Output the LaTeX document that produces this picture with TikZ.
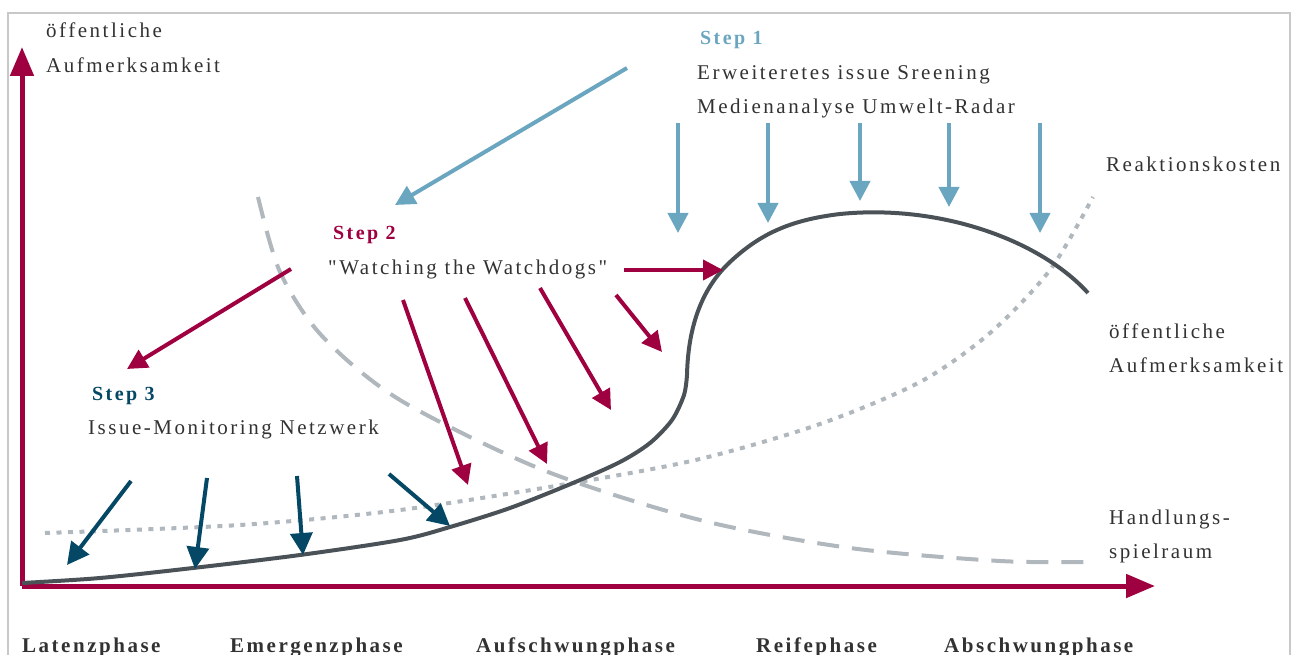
\documentclass[tikz,border=0pt]{standalone}
\usepackage{fontspec}
\setmainfont{Liberation Serif}[LetterSpace=12, Ligatures=TeXOff]
\usetikzlibrary{arrows.meta}

\definecolor{stepred}{RGB}{159,0,64}
\definecolor{stepblue}{RGB}{106,166,192}
\definecolor{stepteal}{RGB}{4,72,102}
\definecolor{curvegray}{RGB}{74,82,88}
\definecolor{lightgray}{RGB}{176,183,189}
\definecolor{txtgray}{RGB}{50,50,50}
\definecolor{framegray}{RGB}{200,200,200}

\tikzset{
	lbl/.style={anchor=base west, inner sep=0pt, text=txtgray, font=\fontsize{21}{24}\selectfont},
	steplbl/.style={anchor=base west, inner sep=0pt, font=\fontsize{20}{24}\selectfont\bfseries},
	phase/.style={anchor=base west, inner sep=0pt, text=txtgray, font=\fontsize{21}{24}\selectfont\bfseries},
	bluearrow/.style={draw=stepblue, line width=4pt, -{Triangle[length=20pt,width=20pt]}},
	redarrow/.style={draw=stepred, line width=4pt, -{Triangle[length=20pt,width=20pt]}},
	tealarrow/.style={draw=stepteal, line width=4pt, -{Triangle[length=22pt,width=22pt]}},
	axis/.style={draw=stepred, line width=5pt, -{Triangle[length=29pt,width=23pt]}},
}

\begin{document}
\begin{tikzpicture}[x=1pt,y=-1pt]
	\useasboundingbox (0,0) rectangle (1298,655);
	\draw[framegray, line width=1.2pt] (8,700) -- (8,13) -- (1290,13) -- (1290,700);

	% axes
	\coordinate (o) at (22,586);
	\coordinate (ytop) at (22,47);
	\coordinate (xend) at (1155,586);
	\draw[axis] (o) -- (ytop);
	\draw[axis] (o) -- (xend);

	% curves
	\draw[lightgray, line width=4pt, dash pattern=on 22pt off 13pt]
		plot[smooth] coordinates {(258,197) (280,272) (322,336) (400,400) (543,470) (700,520) (850,548) (1000,561) (1095,562)};
	\draw[lightgray, line width=4pt, dash pattern=on 5pt off 6.5pt]
		plot[smooth] coordinates {(45,533) (240,525) (400,510) (573,483) (700,459) (820,424) (920,382) (990,333) (1050,270) (1093,197)};
	\draw[curvegray, line width=4pt]
		plot[smooth] coordinates {(22,583) (100,578) (193,568) (300,555) (400,540) (450,527) (510,508) (573,483) (620,462) (650,443) (672,420) (684,395) (687,375)}
		.. controls (688,330) and (700,290) .. (730,262)
		.. controls (760,234) and (790,220) .. (840,214)
		.. controls (940,204) and (1040,240) .. (1088,293);

	% labels
	\node (yl1) at (46,38) [lbl] {öffentliche};
	\node (yl2) at (46,73) [lbl] {Aufmerksamkeit};
	\node (s1) at (700,45) [steplbl, text=stepblue] {Step 1};
	\node (s1a) at (697,80) [lbl] {Erweiteretes issue Sreening};
	\node (s1b) at (697,114) [lbl] {Medienanalyse Umwelt-Radar};
	\node (s2) at (333,239) [steplbl, text=stepred] {Step 2};
	\node (s2a) at (328,274) [lbl] {"Watching the Watchdogs"};
	\node (s3) at (92,400) [steplbl, text=stepteal] {Step 3};
	\node (s3a) at (88,434) [lbl] {Issue-Monitoring Netzwerk};
	\node (rk) at (1106,172) [lbl] {Reaktionskosten};
	\node (oa1) at (1109,338) [lbl] {öffentliche};
	\node (oa2) at (1109,372) [lbl] {Aufmerksamkeit};
	\node (hs1) at (1109,524) [lbl] {Handlungs-};
	\node (hs2) at (1109,558) [lbl] {spielraum};

	\node (p1) at (22,652) [phase] {Latenzphase};
	\node (p2) at (230,652) [phase] {Emergenzphase};
	\node (p3) at (476,652) [phase] {Aufschwungphase};
	\node (p4) at (756,652) [phase] {Reifephase};
	\node (p5) at (944,652) [phase] {Abschwungphase};

	% step 1
	\coordinate (b0a) at (627,68);   \coordinate (b0b) at (395,205);
	\coordinate (b1a) at (678,123);  \coordinate (b1b) at (678,233);
	\coordinate (b2a) at (768,123);  \coordinate (b2b) at (768,223);
	\coordinate (b3a) at (860,123);  \coordinate (b3b) at (860,201);
	\coordinate (b4a) at (949,123);  \coordinate (b4b) at (949,207);
	\coordinate (b5a) at (1040,123); \coordinate (b5b) at (1040,233);
	\draw
	(b0a) edge[bluearrow] (b0b)
	(b1a) edge[bluearrow] (b1b)
	(b2a) edge[bluearrow] (b2b)
	(b3a) edge[bluearrow] (b3b)
	(b4a) edge[bluearrow] (b4b)
	(b5a) edge[bluearrow] (b5b)
	;

	% step 2
	\coordinate (r0a) at (291,269);  \coordinate (r0b) at (127,369);
	\coordinate (r1a) at (403,300);  \coordinate (r1b) at (468,485);
	\coordinate (r2a) at (465,298);  \coordinate (r2b) at (547,464);
	\coordinate (r3a) at (540,288);  \coordinate (r3b) at (611,410);
	\coordinate (r4a) at (616,295);  \coordinate (r4b) at (662,352);
	\coordinate (r5a) at (624,270);  \coordinate (r5b) at (723,270);
	\draw
	(r0a) edge[redarrow] (r0b)
	(r1a) edge[redarrow] (r1b)
	(r2a) edge[redarrow] (r2b)
	(r3a) edge[redarrow] (r3b)
	(r4a) edge[redarrow] (r4b)
	(r5a) edge[redarrow] (r5b)
	;

	% step 3
	\coordinate (t1a) at (131,481);  \coordinate (t1b) at (67,565);
	\coordinate (t2a) at (207,478);  \coordinate (t2b) at (195,569);
	\coordinate (t3a) at (297,476);  \coordinate (t3b) at (303,555);
	\coordinate (t4a) at (389,474);  \coordinate (t4b) at (450,526);
	\draw
	(t1a) edge[tealarrow] (t1b)
	(t2a) edge[tealarrow] (t2b)
	(t3a) edge[tealarrow] (t3b)
	(t4a) edge[tealarrow] (t4b)
	;
\end{tikzpicture}
\end{document}
